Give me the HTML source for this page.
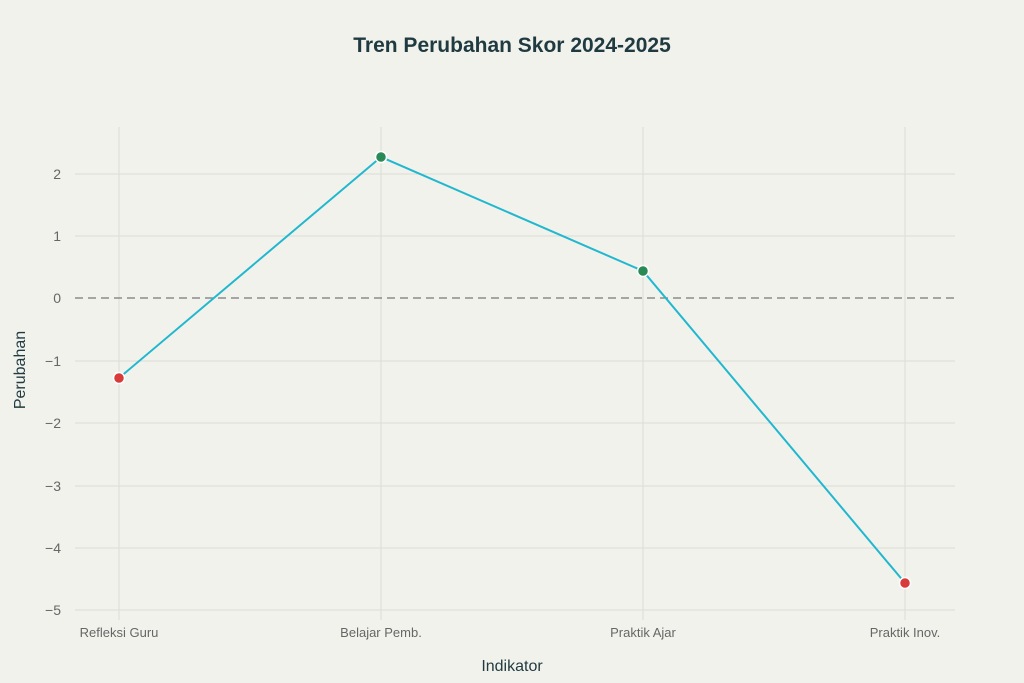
<!DOCTYPE html>
<html><head><style>
html,body{margin:0;padding:0;background:#f2f2ed;}
svg{display:block;font-family:"Liberation Sans",sans-serif;}
</style></head><body>
<svg width="1024" height="683" viewBox="0 0 1024 683">
<rect width="1024" height="683" fill="#f2f2ed"/>
<text x="512" y="52" text-anchor="middle" font-size="21" font-weight="bold" fill="#1f3a40">Tren Perubahan Skor 2024-2025</text>
<g stroke="#dcdcd6" stroke-width="1">
<line x1="119" y1="127" x2="119" y2="620"/>
<line x1="381" y1="127" x2="381" y2="620"/>
<line x1="643" y1="127" x2="643" y2="620"/>
<line x1="905" y1="127" x2="905" y2="620"/>
<line x1="75" y1="174" x2="955" y2="174"/>
<line x1="75" y1="236" x2="955" y2="236"/>
<line x1="75" y1="361" x2="955" y2="361"/>
<line x1="75" y1="423" x2="955" y2="423"/>
<line x1="75" y1="486" x2="955" y2="486"/>
<line x1="75" y1="548" x2="955" y2="548"/>
<line x1="75" y1="610" x2="955" y2="610"/>
</g>
<line x1="75" y1="298" x2="955" y2="298" stroke="#777" stroke-width="1.2" stroke-dasharray="8,5"/>
<g font-size="14" fill="#666" text-anchor="end">
<text x="61" y="179">2</text><text x="61" y="241">1</text><text x="61" y="303">0</text>
<text x="61" y="366">−1</text><text x="61" y="428">−2</text><text x="61" y="491">−3</text>
<text x="61" y="553">−4</text><text x="61" y="615">−5</text>
</g>
<g font-size="13" fill="#666" text-anchor="middle">
<text x="119" y="637">Refleksi Guru</text><text x="381" y="637">Belajar Pemb.</text>
<text x="643" y="637">Praktik Ajar</text><text x="905" y="637">Praktik Inov.</text>
</g>
<text x="512" y="671" text-anchor="middle" font-size="16" fill="#1f3a40">Indikator</text>
<text transform="translate(25,370) rotate(-90)" text-anchor="middle" font-size="16" fill="#1f3a40">Perubahan</text>
<polyline points="119,378 381,157 643,271 905,583" fill="none" stroke="#21b8cf" stroke-width="2"/>
<g stroke="#fff" stroke-width="1.5">
<circle cx="119" cy="378" r="5.5" fill="#d93a3a"/>
<circle cx="381" cy="157" r="5.5" fill="#2a8a55"/>
<circle cx="643" cy="271" r="5.5" fill="#2a8a55"/>
<circle cx="905" cy="583" r="5.5" fill="#d93a3a"/>
</g>
</svg>
</body></html>
